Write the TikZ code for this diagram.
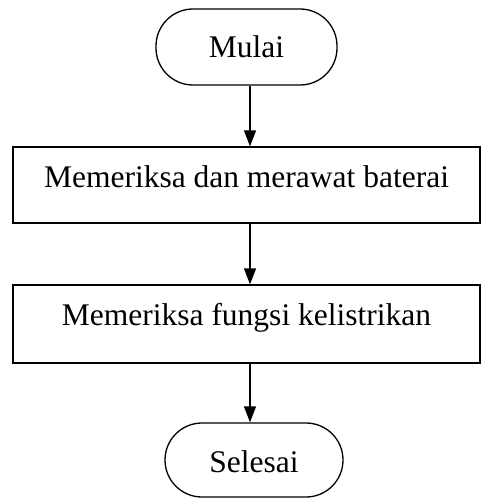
\documentclass[tikz,border=0pt]{standalone}
\usepackage{fontspec}
\setmainfont{Liberation Serif}
\usetikzlibrary{arrows.meta}
\begin{document}
\begin{tikzpicture}[x=1pt,y=-1pt,
  base/.style={draw=black,line width=1.3pt,inner sep=0pt,font=\fontsize{31.5}{36}\selectfont},
  term/.style={base,rounded corners=37pt},
  proc/.style={base},
  flow/.style={line width=1.3pt,-{Triangle[width=12pt,length=16pt]}}]
\useasboundingbox (0,0) rectangle (483,500);
\node[term,minimum width=181pt,text height=49pt,text depth=27pt] (start) at (246.5,47) {Mulai};
\node[proc,minimum width=467pt,text height=40pt,text depth=36pt] (p1) at (246.5,185) {Memeriksa dan merawat baterai};
\node[proc,minimum width=467pt,text height=40pt,text depth=38pt] (p2) at (246.5,324) {Memeriksa fungsi kelistrikan};
\node[term,minimum width=178pt,text height=49pt,text depth=25pt] (end) at (254,460) {Selesai};
\coordinate (ax) at (250,0);
\draw[flow] (start.south -| ax) -- (p1.north -| ax);
\draw[flow] (p1.south -| ax) -- (p2.north -| ax);
\draw[flow] (p2.south -| ax) -- (end.north -| ax);
\end{tikzpicture}
\end{document}
